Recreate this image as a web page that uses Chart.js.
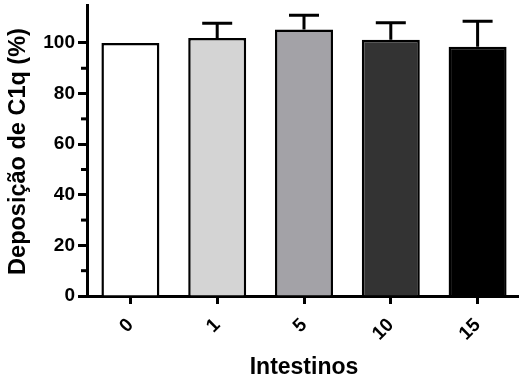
<!DOCTYPE html>
<html>
<head>
<meta charset="utf-8">
<script src="https://cdn.jsdelivr.net/npm/chart.js@4/dist/chart.umd.min.js"></script>
<style>
    html, body { margin: 0; padding: 0; background: #fff; overflow: hidden; }
    #wrap { width: 521px; height: 383px; }
</style>
</head>
<body>
<div id="wrap"><canvas id="barChart" width="521" height="383"></canvas></div>
<script>
const categories = ['0', '1', '5', '10', '15'];
const means = [100, 102, 105.3, 101.3, 98.5];
const sem = [0, 5.8, 5.6, 6.7, 10.1];
const barColors = ['#ffffff', '#d4d4d4', '#a3a2a7', '#333333', '#000000'];
const yTitle = 'Deposição de C1q (%)';

const FONT = "'Liberation Sans', Arial, sans-serif";

// upper error bars (mean + SEM) with a cap
const errorBars = {
    id: 'errorBars',
    afterDatasetsDraw(chart) {
        const ctx = chart.ctx;
        const y = chart.scales.y;
        const meta = chart.getDatasetMeta(0);
        ctx.save();
        ctx.strokeStyle = '#000';
        ctx.lineWidth = 3;
        meta.data.forEach((bar, i) => {
            if (!sem[i]) return;
            const top = y.getPixelForValue(means[i] + sem[i]);
            const base = y.getPixelForValue(means[i]);
            ctx.beginPath();
            ctx.moveTo(bar.x, base);
            ctx.lineTo(bar.x, top);
            ctx.moveTo(bar.x - 15, top);
            ctx.lineTo(bar.x + 15, top);
            ctx.stroke();
        });
        ctx.restore();
    }
};

// short minor ticks on the y axis + the rotated y title
const yAxisExtras = {
    id: 'yAxisExtras',
    afterDraw(chart) {
        const ctx = chart.ctx;
        const y = chart.scales.y;
        const area = chart.chartArea;
        ctx.save();
        ctx.strokeStyle = '#000';
        ctx.lineWidth = 3;
        y.ticks.forEach(t => {
            if (t.value % 20 === 0 || t.value % 10 !== 0) return;
            const py = y.getPixelForValue(t.value);
            ctx.beginPath();
            ctx.moveTo(area.left - 6, py);
            ctx.lineTo(area.left, py);
            ctx.stroke();
        });

        ctx.translate(19, (area.top + area.bottom) / 2 + 1);
        ctx.rotate(-Math.PI / 2);
        ctx.fillStyle = '#000';
        ctx.font = 'bold 23.5px ' + FONT;
        ctx.textAlign = 'center';
        ctx.textBaseline = 'middle';
        ctx.fillText(yTitle, 0, 0);
        ctx.restore();
    }
};

new Chart(document.getElementById('barChart'), {
    type: 'bar',
    data: {
        labels: categories,
        datasets: [{
            data: means,
            backgroundColor: barColors,
            borderColor: '#000',
            borderWidth: 2.5,
            categoryPercentage: 1,
            barPercentage: 0.668
        }]
    },
    options: {
        responsive: false,
        animation: false,
        layout: { padding: { top: 5 } },
        plugins: {
            legend: { display: false },
            tooltip: { enabled: false }
        },
        scales: {
            x: {
                afterFit: s => {
                    s.height = 87;
                    s.paddingLeft = 0;
                    s.paddingRight = 0;
                },
                grid: {
                    display: true,
                    offset: false,
                    drawOnChartArea: false,
                    drawTicks: true,
                    tickLength: 8,
                    tickWidth: 3,
                    tickColor: '#000'
                },
                border: { display: true, color: '#000', width: 3 },
                ticks: {
                    color: '#000',
                    minRotation: 45,
                    maxRotation: 45,
                    padding: 10,
                    font: { family: FONT, size: 19, weight: 'bold' }
                },
                title: {
                    display: true,
                    text: 'Intestinos',
                    color: '#000',
                    padding: { top: 0, bottom: 2 },
                    font: { family: FONT, size: 23, weight: 'bold' }
                }
            },
            y: {
                min: 0,
                max: 115,
                afterFit: s => {
                    s.width = 87;
                    s.paddingTop = 0;
                    s.paddingBottom = 0;
                },
                grid: {
                    display: true,
                    drawOnChartArea: false,
                    drawTicks: true,
                    tickLength: 9,
                    tickWidth: 3,
                    tickColor: c => (c.tick && c.tick.value % 20 === 0) ? '#000' : 'rgba(0,0,0,0)'
                },
                border: { display: true, color: '#000', width: 3 },
                ticks: {
                    stepSize: 10,
                    color: '#000',
                    padding: 3,
                    font: { family: FONT, size: 19, weight: 'bold' },
                    callback: v => (v % 20 === 0 ? String(v) : '')
                }
            }
        }
    },
    plugins: [errorBars, yAxisExtras]
});
</script>
</body>
</html>
